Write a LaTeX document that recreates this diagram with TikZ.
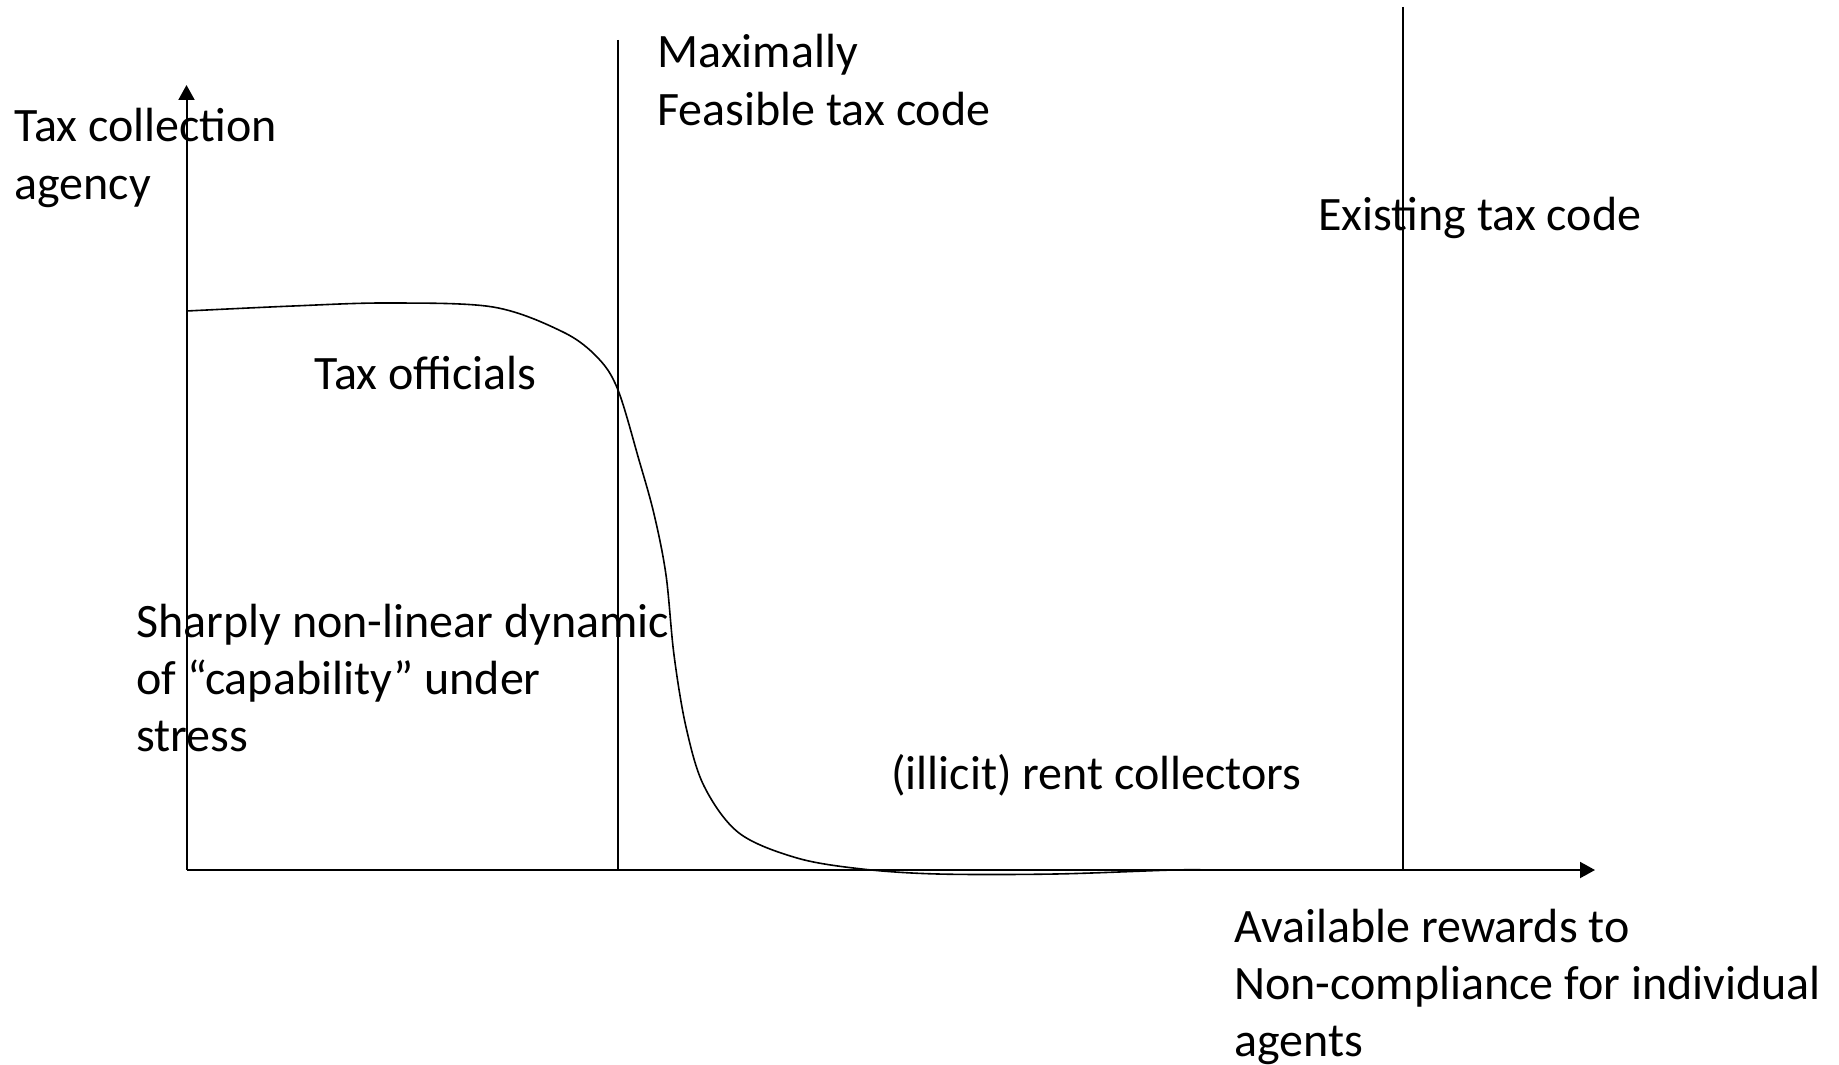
\documentclass[tikz,border=0pt]{standalone}
\usepackage{fontspec}
\setmainfont{Carlito}
\usetikzlibrary{arrows.meta}
\begin{document}
\begin{tikzpicture}[x=0.5pt,y=-0.5pt,
  axisline/.style={line width=1pt,-{Triangle[length=7.5pt,width=8pt]}},
  codeline/.style={line width=1pt},
  curveline/.style={line width=0.8pt},
  lbl/.style={anchor=base west,inner sep=0pt,align=left,
    font=\fontsize{24pt}{28.6pt}\selectfont}]
\useasboundingbox (0,0) rectangle (1839,1064);

% axes
\coordinate (O) at (186.5,870);
\coordinate (ytip) at (186.5,85);
\coordinate (xtip) at (1595,870);
\draw[axisline] (O) -- (ytip);
\draw[axisline] (O) -- (xtip);

% tax code boundaries
\coordinate (feasTop) at (618,40);
\coordinate (feasBot) at (618,870);
\coordinate (existTop) at (1403,7);
\coordinate (existBot) at (1403,870);
\draw[codeline] (feasTop) -- (feasBot);
\draw[codeline] (existTop) -- (existBot);

% capability curve
\draw[curveline] plot[smooth,tension=0.55] coordinates {
  (186.5,311) (293,306) (387,303) (493,307) (563,332) (598,358)
  (618,390) (639,460) (654,514) (666,575) (674,655) (686,727)
  (704,786) (739,833) (797,858) (862,869) (938,874) (1055,874)
  (1173,870) (1208,870)};

% labels (base anchor sits on the last line of each block)
\node[lbl] (yl) at (14,199.2) {Tax collection\\agency};
\node[lbl] (maxf) at (657,125.2) {Maximally\\Feasible tax code};
\node[lbl] (exist) at (1318,230) {Existing tax code};
\node[lbl] (officials) at (314,389) {Tax officials};
\node[lbl] (sharp) at (136,751.4) {Sharply non-linear dynamic\\of “capability” under\\stress};
\node[lbl] (rent) at (891,789) {(illicit) rent collectors};
\node[lbl] (xl) at (1234,1056.4) {Available rewards to\\Non-compliance for individual\\agents};
\end{tikzpicture}
\end{document}
